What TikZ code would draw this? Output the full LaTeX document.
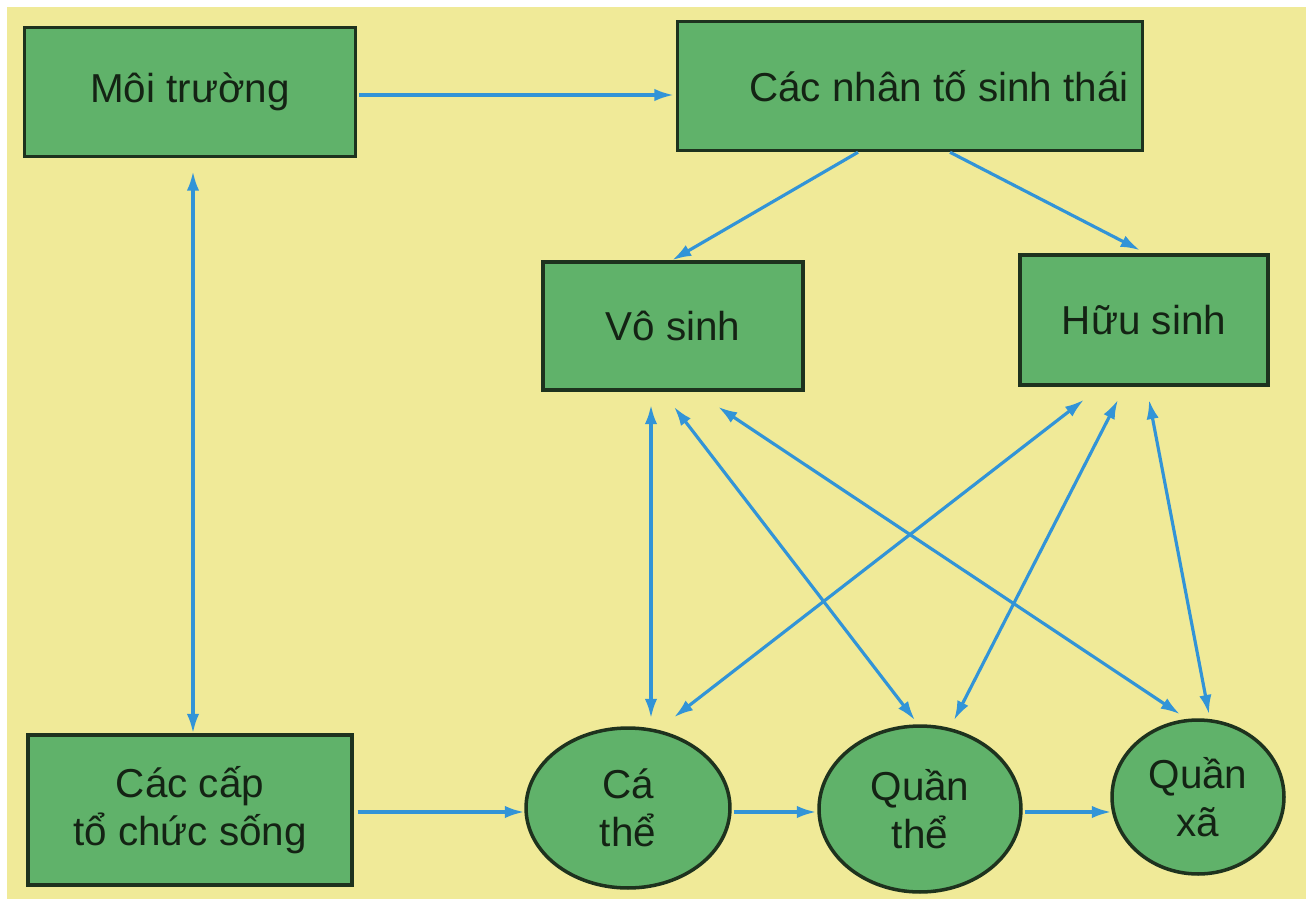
\documentclass[tikz,border=0pt]{standalone}
\usepackage{fontspec}
\setmainfont{Liberation Sans}
\usetikzlibrary{shapes.geometric,arrows.meta,calc}
\definecolor{bg}{RGB}{240,234,152}
\definecolor{boxg}{RGB}{96,178,106}
\definecolor{edgec}{RGB}{30,50,30}
\definecolor{arr}{RGB}{50,148,215}
\definecolor{txt}{RGB}{20,35,20}
\begin{document}
\begin{tikzpicture}[x=0.02cm,y=-0.02cm,
  box/.style={draw=edgec,fill=boxg,line width=2pt,inner sep=0pt,text=txt,
              font=\fontsize{23}{27}\selectfont,align=center},
  oval/.style={box,ellipse},
  link/.style={draw=arr,line width=1.8pt,-{Latex[length=11pt,width=7pt]}},
  both/.style={draw=arr,line width=1.8pt,{Latex[length=11pt,width=7pt]}-{Latex[length=11pt,width=7pt]}}]
\useasboundingbox (0,0) rectangle (1311,906);
\fill[white] (0,0) rectangle (1311,906);
\fill[bg] (7,7) rectangle (1306,899);

\node[box,minimum width=6.62cm,minimum height=2.58cm] (moi) at (190,92) {Môi trường};
\node[box,minimum width=9.3cm,minimum height=2.58cm] (nt) at (910,86) {\hspace*{1.16cm}Các nhân tố sinh thái};
\node[box,minimum width=5.2cm,minimum height=2.56cm] (vo) at (673,326) {Vô sinh};
\node[box,minimum width=4.96cm,minimum height=2.6cm] (huu) at (1144,320) {Hữu sinh};
\node[box,minimum width=6.48cm,minimum height=3.0cm] (cap) at (190,810) {Các cấp\\tổ chức sống};
\node[oval,minimum width=4.08cm,minimum height=3.2cm] (ca) at (628,808) {Cá\\thể};
\node[oval,minimum width=4.04cm,minimum height=3.32cm] (qt) at (920,809) {Quần\\thể};
\node[oval,minimum width=3.44cm,minimum height=3.08cm] (qx) at (1198,797) {Quần\\xã};

% top row
\draw[link] ($(moi.east)+(2,3)$) -- ($(moi.east -| nt.west)+(-2,3)$);
\draw[both] ($(moi.south)+(3,13)$) -- ($(cap.north)+(3,0)$);
\draw[link] ($(nt.south)+(-52,0)$) -- ($(vo.north)+(-1,0)$);
\draw[link] ($(nt.south)+(40,0)$) -- ($(huu.north)+(-4,-3)$);

% bottom row
\draw[link] ($(cap.east)+(4,2)$) -- ($(cap.east -| ca.west)+(0,2)$);
\draw[link] ($(ca.east)+(2,4)$) -- ($(ca.east -| qt.west)+(-1,4)$);
\draw[link] ($(qt.east)+(2,3)$) -- ($(qt.east -| qx.west)+(1,3)$);

% crossing links
\draw[both] ($(vo.south)+(-22,13)$) -- ($(ca.north)+(23,-8)$);
\draw[both] ($(vo.south)+(1,15)$) -- ($(qt.north)+(-5,-4)$);
\draw[both] ($(vo.south)+(45,15)$) -- ($(qx.north)+(-18,-4)$);
\draw[both] ($(huu.south)+(-60,13)$) -- ($(ca.north)+(46,-9)$);
\draw[both] ($(huu.south)+(-26,13)$) -- ($(qt.north)+(34,-4)$);
\draw[both] ($(huu.south)+(5,13)$) -- ($(qx.north)+(11,-4)$);
\end{tikzpicture}
\end{document}
